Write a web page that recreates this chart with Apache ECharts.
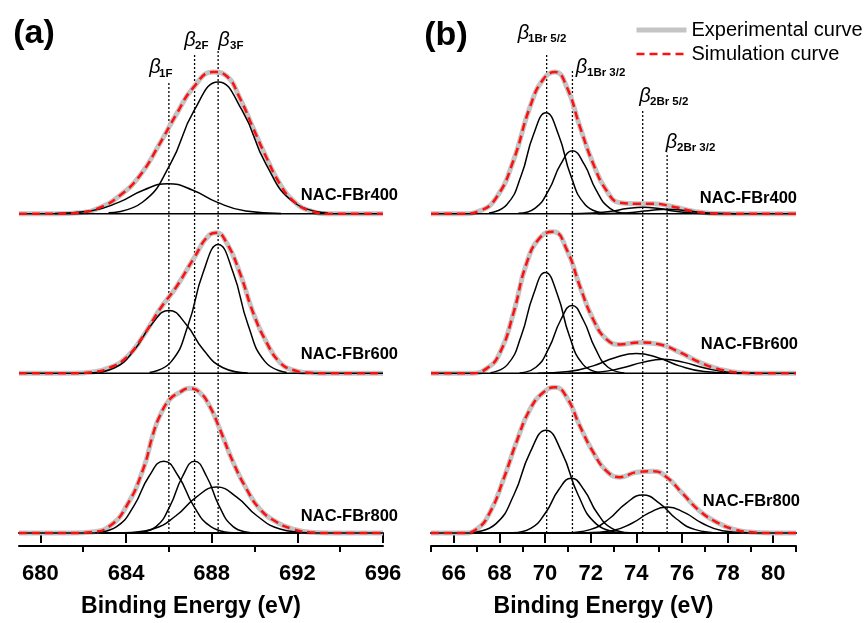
<!DOCTYPE html>
<html>
<head>
<meta charset="utf-8">
<script src="https://cdn.jsdelivr.net/npm/echarts@6/dist/echarts.min.js"></script>
<style>
  html, body { margin: 0; padding: 0; background: #fff; }
  #chart { width: 867px; height: 623px; }
</style>
</head>
<body>
<div id="chart"></div>
<script>
// axis ranges and ticks
const fRange = [679, 696];
const brRange = [65, 81];
const fMajor = [680, 684, 688, 692, 696];
const fMinor = [682, 686, 690, 694];
const brMajor = [66, 68, 70, 72, 74, 76, 78, 80];
const brMinor = [65, 67, 69, 71, 73, 75, 77, 79, 81];

const sampleNames = ["NAC-FBr400", "NAC-FBr600", "NAC-FBr800"];
const stackOffset = [3.2, 1.6, 0]; // vertical shift of each spectrum (a.u.)

// F 1s envelopes (experimental = simulation)
const fEnv400 = [[679,0],[680.8,0],[681.84,0.01],[682.77,0.06],[683.7,0.18],[684.64,0.38],[685.57,0.7],[686.36,1.0],[687.13,1.26],[688.07,1.42],[688.69,1.38],[689.31,1.16],[689.93,0.86],[690.56,0.56],[691.18,0.3],[691.8,0.13],[692.58,0.03],[693.5,0],[696,0]];
const fEnv600 = [[679,0],[681.5,0],[682.46,0.013],[683.24,0.057],[684.02,0.16],[684.79,0.37],[685.57,0.64],[686.36,0.87],[687.13,1.14],[687.91,1.39],[688.22,1.41],[688.69,1.31],[689.31,1.01],[689.93,0.61],[690.56,0.31],[691.18,0.11],[691.8,0.033],[692.6,0.005],[693.5,0],[696,0]];
const fEnv800 = [[679,0],[681.5,0],[682.4,0.01],[683.24,0.07],[684.02,0.27],[684.8,0.64],[685.26,0.99],[685.57,1.17],[686.04,1.34],[686.51,1.41],[686.94,1.45],[687.44,1.41],[687.91,1.27],[688.38,1.04],[689.0,0.71],[689.63,0.44],[690.25,0.24],[691.03,0.11],[691.8,0.04],[692.58,0.007],[693.5,0],[696,0]];

// F 1s fitted components
const fPeaks400 = [
  [[680.68,0.002],[682.33,0.027],[683.65,0.113],[684.8,0.235],[685.96,0.30],[687.12,0.235],[688.27,0.113],[689.59,0.027],[691.24,0.002]],
  [[683.18,0.008],[684.78,0.117],[686.06,0.495],[687.18,1.034],[688.3,1.32],[689.42,1.034],[690.54,0.495],[691.82,0.117],[693.42,0.008]]
];
const fPeaks600 = [
  [[682.32,0.004],[683.47,0.056],[684.39,0.236],[685.2,0.493],[686.0,0.63],[686.8,0.493],[687.61,0.236],[688.53,0.056],[689.68,0.004]],
  [[685.1,0.008],[686.1,0.115],[686.9,0.484],[687.6,1.01],[688.3,1.29],[689.0,1.01],[689.7,0.484],[690.5,0.115],[691.5,0.008]]
];
const fPeaks800 = [
  [[682.56,0.004],[683.56,0.064],[684.36,0.27],[685.06,0.564],[685.76,0.72],[686.46,0.564],[687.16,0.27],[687.96,0.064],[688.96,0.004]],
  [[684.58,0.004],[685.4,0.064],[686.05,0.27],[686.63,0.564],[687.2,0.72],[687.77,0.564],[688.35,0.27],[689.0,0.064],[689.82,0.004]],
  [[683.9,0.003],[685.25,0.041],[686.33,0.173],[687.28,0.36],[688.22,0.46],[689.17,0.36],[690.11,0.173],[691.19,0.041],[692.54,0.003]]
];

// Br 3d envelopes
const brEnv400 = [[65,0],[66.4,0],[67.16,0.03],[67.89,0.17],[68.61,0.53],[69.34,1.07],[69.93,1.35],[70.44,1.42],[70.95,1.27],[71.53,0.87],[72.11,0.5],[72.7,0.23],[73.28,0.11],[74.01,0.1],[74.74,0.1],[75.61,0.07],[76.49,0.025],[77.22,0.005],[78,0],[81,0]];
const brEnv600 = [[65,0],[66.7,0],[67.45,0.05],[68.03,0.21],[68.61,0.6],[69.2,1.11],[69.78,1.36],[70.36,1.42],[70.95,1.24],[71.53,0.87],[72.11,0.54],[72.7,0.34],[73.28,0.29],[74.16,0.31],[75.03,0.29],[75.91,0.21],[76.78,0.11],[77.66,0.04],[78.53,0.007],[79.5,0],[81,0]];
const brEnv800 = [[65,0],[66.4,0],[67.01,0.04],[67.59,0.21],[68.18,0.54],[68.76,0.92],[69.34,1.24],[69.93,1.41],[70.44,1.46],[70.95,1.36],[71.53,1.07],[72.11,0.81],[72.7,0.62],[73.28,0.56],[74.01,0.61],[74.74,0.62],[75.33,0.56],[76.05,0.39],[76.78,0.22],[77.51,0.11],[78.24,0.04],[78.97,0.01],[80,0],[81,0]];

// Br 3d fitted components
const brPeaks400 = [
  [[67.54,0.006],[68.32,0.09],[68.95,0.379],[69.49,0.791],[70.04,1.01],[70.59,0.791],[71.13,0.379],[71.76,0.09],[72.54,0.006]],
  [[68.83,0.004],[69.57,0.056],[70.16,0.236],[70.68,0.493],[71.2,0.63],[71.72,0.493],[72.24,0.236],[72.83,0.056],[73.57,0.004]],
  [[71.1,0.0004],[72.1,0.006],[72.9,0.024],[73.6,0.051],[74.3,0.065],[75.0,0.051],[75.7,0.024],[76.5,0.006],[77.5,0.0004]],
  [[72.31,0.0003],[73.26,0.004],[74.02,0.017],[74.69,0.035],[75.35,0.045],[76.02,0.035],[76.68,0.017],[77.44,0.004],[78.39,0.0003]]
];
const brPeaks600 = [
  [[67.61,0.006],[68.36,0.09],[68.96,0.379],[69.49,0.791],[70.01,1.01],[70.54,0.791],[71.06,0.379],[71.66,0.09],[72.41,0.006]],
  [[68.88,0.004],[69.6,0.061],[70.17,0.255],[70.68,0.532],[71.18,0.68],[71.68,0.532],[72.19,0.255],[72.76,0.061],[73.48,0.004]],
  [[69.68,0.001],[71.03,0.018],[72.11,0.075],[73.06,0.157],[74.0,0.20],[74.95,0.157],[75.89,0.075],[76.97,0.018],[78.32,0.001]],
  [[71.02,0.001],[72.32,0.012],[73.36,0.053],[74.27,0.11],[75.18,0.14],[76.09,0.11],[77.0,0.053],[78.04,0.012],[79.34,0.001]]
];
const brPeaks800 = [
  [[66.84,0.006],[67.84,0.092],[68.64,0.386],[69.34,0.806],[70.04,1.03],[70.74,0.806],[71.44,0.386],[72.24,0.092],[73.24,0.006]],
  [[68.59,0.003],[69.39,0.049],[70.03,0.206],[70.59,0.431],[71.15,0.55],[71.71,0.431],[72.27,0.206],[72.91,0.049],[73.71,0.003]],
  [[70.92,0.002],[71.97,0.034],[72.81,0.143],[73.55,0.298],[74.28,0.38],[75.02,0.298],[75.75,0.143],[76.59,0.034],[77.64,0.002]],
  [[71.83,0.002],[72.93,0.023],[73.81,0.098],[74.58,0.204],[75.35,0.26],[76.12,0.204],[76.89,0.098],[77.77,0.023],[78.87,0.002]]
];

// peak position markers (energy, top of dotted line)
const fRefEnergy = [686.0, 687.2, 688.3];
const fRefTop = [4.52, 4.81, 4.84];
const brRefEnergy = [70.07, 71.2, 74.28, 75.35];
const brRefTop = [4.81, 4.64, 4.24, 3.81];

const FONT = 'Arial, "Liberation Sans", sans-serif';
const EXP_STYLE = { color: "#c4c4c4", width: 5 };
const SIM_STYLE = { color: "#ff1010", width: 2.5, type: [8, 5] };

function shift(points, dy) {
  return points.map(function (p) { return [p[0], p[1] + dy]; });
}

function panelSeries(xi, yi, range, envs, peaks, refE, refTop) {
  const out = [];
  refE.forEach(function (e, k) {
    out.push({
      type: "line", xAxisIndex: xi, yAxisIndex: yi, silent: true, symbol: "none", z: 1,
      data: [[e, 0], [e, refTop[k]]],
      lineStyle: { color: "#000", width: 1.3, type: [2, 2] }
    });
  });
  envs.forEach(function (env, i) {
    const dy = stackOffset[i];
    out.push({
      name: "Experimental curve", type: "line", xAxisIndex: xi, yAxisIndex: yi,
      data: shift(env, dy), smooth: true, symbol: "none", z: 2,
      itemStyle: { color: EXP_STYLE.color }, lineStyle: EXP_STYLE
    });
    out.push({
      type: "line", xAxisIndex: xi, yAxisIndex: yi, symbol: "none", z: 3, silent: true,
      data: [[range[0], dy], [range[1], dy]],
      lineStyle: { color: "#000", width: 1.5 }
    });
    peaks[i].forEach(function (pk) {
      out.push({
        type: "line", xAxisIndex: xi, yAxisIndex: yi, symbol: "none", z: 3, silent: true,
        data: shift(pk, dy), smooth: true,
        lineStyle: { color: "#000", width: 1.5 }
      });
    });
    out.push({
      name: "Simulation curve", type: "line", xAxisIndex: xi, yAxisIndex: yi,
      data: shift(env, dy), smooth: true, symbol: "none", z: 4,
      itemStyle: { color: SIM_STYLE.color }, lineStyle: SIM_STYLE
    });
  });
  return out;
}

function energyAxes(grid, range, major, minor) {
  const base = {
    type: "value", gridIndex: grid, min: range[0], max: range[1], position: "bottom",
    axisLine: { lineStyle: { color: "#000", width: 2 } },
    splitLine: { show: false }
  };
  return [
    Object.assign({}, base, {
      name: "Binding Energy (eV)", nameLocation: "middle", nameGap: 49,
      nameTextStyle: { fontSize: 23, fontWeight: "bold", color: "#000", fontFamily: FONT, padding: [0, 20, 0, 0] },
      axisTick: { customValues: major, length: 10, lineStyle: { color: "#000", width: 2 } },
      axisLabel: { customValues: major, fontSize: 22, fontWeight: "bold", color: "#000", fontFamily: FONT, margin: 17 }
    }),
    Object.assign({}, base, {
      axisTick: { customValues: minor, length: 6, lineStyle: { color: "#000", width: 2 } },
      axisLabel: { show: false }
    })
  ];
}

function txt(x, y, text, size, weight, align, style) {
  return {
    type: "text", x: x, y: y, silent: true,
    style: Object.assign({
      text: text, fontSize: size, fontWeight: weight || "normal", fontFamily: FONT,
      fill: "#000", align: align || "center", verticalAlign: "middle"
    }, style || {})
  };
}

function beta(bx, by, sx, sy, sub) {
  return [
    txt(bx, by, "β", 20, "normal", "center", { fontStyle: "italic" }),
    txt(sx, sy, sub, 11.5, "bold", "left")
  ];
}

const chart = echarts.init(document.getElementById("chart"));

const option = {
  animation: false,
  backgroundColor: "#fff",
  grid: [
    { left: 19, width: 364, top: 47, height: 500 },
    { left: 431, width: 365, top: 47, height: 500 }
  ],
  xAxis: energyAxes(0, fRange, fMajor, fMinor).concat(energyAxes(1, brRange, brMajor, brMinor)),
  yAxis: [
    { type: "value", gridIndex: 0, min: -0.13, max: 4.87, show: false },
    { type: "value", gridIndex: 1, min: -0.13, max: 4.87, show: false }
  ],
  legend: {
    data: [
      { name: "Experimental curve", itemStyle: { opacity: 0 }, lineStyle: EXP_STYLE },
      { name: "Simulation curve", itemStyle: { opacity: 0 }, lineStyle: SIM_STYLE }
    ],
    orient: "vertical", left: 634, top: 20, padding: 0,
    itemWidth: 50, itemHeight: 14, itemGap: 4,
    textStyle: { fontSize: 20, color: "#000", fontFamily: FONT }
  },
  graphic: [
    txt(34, 34, "(a)", 34, "bold"),
    txt(446, 36, "(b)", 34, "bold"),
    txt(398, 195, sampleNames[0], 16.5, "bold", "right"),
    txt(398, 354, sampleNames[1], 16.5, "bold", "right"),
    txt(398, 516, sampleNames[2], 16.5, "bold", "right"),
    txt(797, 198, sampleNames[0], 16.5, "bold", "right"),
    txt(798, 344, sampleNames[1], 16.5, "bold", "right"),
    txt(800, 501, sampleNames[2], 16.5, "bold", "right")
  ].concat(
    beta(155, 67.5, 159, 73.5, "1F"),
    beta(190, 40, 195, 45.5, "2F"),
    beta(224, 40, 230, 45.5, "3F"),
    beta(523.5, 33.5, 528, 39, "1Br 5/2"),
    beta(581.5, 67, 587, 72.5, "1Br 3/2"),
    beta(645, 96, 650, 101.5, "2Br 5/2"),
    beta(671.5, 142.5, 677, 148, "2Br 3/2")
  ),
  series: panelSeries(0, 0, fRange, [fEnv400, fEnv600, fEnv800], [fPeaks400, fPeaks600, fPeaks800], fRefEnergy, fRefTop)
    .concat(panelSeries(2, 1, brRange, [brEnv400, brEnv600, brEnv800], [brPeaks400, brPeaks600, brPeaks800], brRefEnergy, brRefTop))
};

chart.setOption(option);
</script>
</body>
</html>
